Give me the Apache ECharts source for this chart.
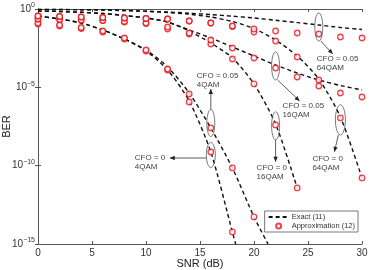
<!DOCTYPE html>
<html>
<head>
<meta charset="utf-8">
<script src="https://cdn.jsdelivr.net/npm/echarts@6/dist/echarts.min.js"></script>
<style>
  html, body { margin: 0; padding: 0; background: #fff; }
  #chart { width: 369px; height: 270px; }
</style>
</head>
<body>
<div id="chart"></div>
<script>
// exact curves, eq. (11): [SNR dB, BER]
const exact4qamCfo0 = [[0,0.357],[2,0.230],[4,0.128],[6,0.0457],[8,0.0122],[10,2.09e-3],[12,1.28e-4],[14,1.35e-6],[16,7.48e-10],[18,5.88e-15],[18.3,1e-15]];
const exact4qamCfo005 = [[0,0.357],[2,0.230],[4,0.128],[6,0.0457],[8,0.0122],[10,2.42e-3],[12,1.99e-4],[14,4.36e-6],[16,2.55e-8],[18,7.13e-11],[20,5.32e-14],[21.3,1e-15]];
const exact16qamCfo0 = [[0,0.745],[2,0.693],[4,0.616],[6,0.516],[8,0.385],[10,0.267],[12,0.148],[14,0.0394],[16,6.77e-3],[18,7.46e-4],[20,1.64e-5],[22,4.58e-8],[24,3.78e-12]];
const exact16qamCfo005 = [[0,0.745],[2,0.693],[4,0.616],[6,0.516],[8,0.385],[10,0.267],[12,0.148],[14,0.0457],[16,0.0141],[18,3.76e-3],[20,1.0e-3],[22,2.67e-4],[24,8.24e-5],[26,2.94e-5],[28,1.31e-5],[30,6.78e-6]];
const exact64qamCfo0 = [[0,0.95],[2,0.93],[4,0.90],[6,0.863],[8,0.790],[10,0.703],[12,0.598],[14,0.466],[16,0.309],[18,0.159],[20,0.0570],[22,0.0105],[24,1.0e-3],[26,3.41e-5],[28,1.28e-7],[30,1.64e-11]];
const exact64qamCfo005 = [[0,0.95],[2,0.93],[4,0.90],[6,0.863],[8,0.802],[10,0.724],[12,0.643],[14,0.540],[16,0.439],[18,0.347],[20,0.267],[22,0.190],[24,0.136],[26,0.0953],[28,0.0660],[30,0.0492]];

// approximation, eq. (12)
const approx4qamCfo0 = [[0,0.110],[2,0.0822],[4,0.0570],[6,0.0340],[8,0.0122],[10,2.09e-3],[12,1.28e-4],[14,1.16e-6],[16,7.48e-10],[18,5.88e-15]];
const approx4qamCfo005 = [[0,0.128],[2,0.0953],[4,0.0660],[6,0.0394],[8,0.0141],[10,2.42e-3],[12,1.48e-4],[14,3.76e-6],[16,2.55e-8],[18,7.13e-11],[20,5.32e-14]];
const approx16qamCfo0 = [[0,0.230],[2,0.214],[4,0.199],[6,0.185],[8,0.148],[10,0.119],[12,0.0529],[14,0.0254],[16,5.84e-3],[18,6.44e-4],[20,1.64e-5],[22,3.96e-8],[24,3.78e-12]];
const approx16qamCfo005 = [[0,0.230],[2,0.214],[4,0.199],[6,0.185],[8,0.159],[10,0.128],[12,0.0710],[14,0.0294],[16,0.0105],[18,3.24e-3],[20,7.46e-4],[22,1.72e-4],[24,4.57e-5],[26,1.22e-5],[28,4.36e-6],[30,2.42e-6]];
const approx64qamCfo0 = [[0,0.357],[2,0.332],[4,0.309],[6,0.287],[8,0.267],[10,0.248],[12,0.230],[14,0.171],[16,0.128],[18,0.0764],[20,0.0340],[22,9.08e-3],[24,8.65e-4],[26,2.94e-5],[28,1.11e-7],[30,1.64e-11]];
const approx64qamCfo005 = [[0,0.357],[2,0.332],[4,0.309],[6,0.287],[8,0.267],[10,0.248],[12,0.230],[14,0.171],[16,0.128],[18,0.0822],[20,0.0529],[22,0.0394],[24,0.0294],[26,0.0254],[28,0.0163],[30,0.0141]];

// callouts: ellipse centre [SNR, BER], then offsets in px for arrow and text
const callouts = [
  { text: 'CFO = 0.05\n64QAM', at: [26, 0.071], rx: 4, ry: 14, arrow: [[2, 14], [14, 27]], label: [-2, 27] },
  { text: 'CFO = 0.05\n16QAM', at: [22, 2.3e-4], rx: 4, ry: 14, arrow: [[2, 14], [24, 35]], label: [7, 35] },
  { text: 'CFO = 0.05\n4QAM', at: [16, 5.3e-8], rx: 4, ry: 13.5, arrow: [[0, -13.5], [0, -34]], label: [-14, -52] },
  { text: 'CFO = 0\n4QAM', at: [16, 4.8e-10], rx: 4.5, ry: 12.5, arrow: [[-4.5, 3], [-41, 3]], label: [-76, -2] },
  { text: 'CFO = 0\n16QAM', at: [22, 3.5e-8], rx: 4, ry: 14, arrow: [[0, 14], [0, 36]], label: [-19, 37] },
  { text: 'CFO = 0\n64QAM', at: [28, 8.4e-8], rx: 5, ry: 15, arrow: [[-2, 15], [-6, 32]], label: [-28, 34] }
];

const FONT = '"Liberation Sans", Arial, sans-serif';
const chart = echarts.init(document.getElementById('chart'), null, { renderer: 'canvas' });

const lineStyleExact = { color: '#111', width: 1.4, type: [4, 3] };
const approxStyle = { color: '#fff', borderColor: '#e8141c', borderWidth: 1.3 };

const exactSeries = [exact4qamCfo0, exact4qamCfo005, exact16qamCfo0, exact16qamCfo005, exact64qamCfo0, exact64qamCfo005].map(d => ({
  name: 'Exact (11)',
  type: 'line',
  data: d,
  symbol: 'none',
  smooth: 0.25,
  lineStyle: lineStyleExact,
  itemStyle: { color: '#111' },
  z: 2
}));
const approxSeries = [approx4qamCfo0, approx4qamCfo005, approx16qamCfo0, approx16qamCfo005, approx64qamCfo0, approx64qamCfo005].map(d => ({
  name: 'Approximation (12)',
  type: 'scatter',
  data: d,
  symbol: 'circle',
  symbolSize: 5.5,
  itemStyle: approxStyle,
  z: 3
}));

const supLabel = v => {
  const e = Math.round(Math.log10(v));
  return '{b|10}{s|' + (e < 0 ? '\u2212' + (-e) : e) + '}';
};

const option = {
  animation: false,
  textStyle: { fontFamily: FONT },
  grid: { left: 38, right: 7, top: 9, bottom: 26, outerBoundsMode: 'none', containLabel: false },
  legend: {
    orient: 'vertical',
    right: 11,
    bottom: 38,
    itemWidth: 20,
    itemHeight: 5,
    itemGap: 1,
    padding: [2, 3, 2, 3],
    borderColor: '#555',
    borderWidth: 0.8,
    backgroundColor: '#fff',
    textStyle: { fontSize: 7.5, color: '#333', fontFamily: FONT, padding: [0, 0, 0, -2] },
    data: [
      { name: 'Exact (11)', itemStyle: { opacity: 0 } },
      { name: 'Approximation (12)' }
    ]
  },
  xAxis: [
    {
      type: 'value', min: 0, max: 30, interval: 5,
      name: 'SNR (dB)', nameLocation: 'middle', nameGap: 14, nameMoveOverlap: false,
      nameTextStyle: { fontSize: 11, color: '#222', fontFamily: FONT },
      axisLine: { lineStyle: { color: '#555', width: 1 } },
      axisTick: { inside: true, length: 3, lineStyle: { color: '#555' } },
      axisLabel: { fontSize: 10, color: '#333', margin: 4, fontFamily: FONT },
      splitLine: { show: false }
    },
    {
      type: 'value', min: 0, max: 30, interval: 5, position: 'top',
      axisLine: { lineStyle: { color: '#555', width: 1 } },
      axisTick: { inside: true, length: 3, lineStyle: { color: '#555' } },
      axisLabel: { show: false },
      splitLine: { show: false }
    }
  ],
  yAxis: [
    {
      type: 'log', logBase: 10, min: 1e-15, max: 1, interval: 5,
      name: 'BER', nameLocation: 'middle', nameGap: 26, nameMoveOverlap: false,
      nameTextStyle: { fontSize: 11, color: '#222', fontFamily: FONT },
      axisLine: { show: true, lineStyle: { color: '#555', width: 1 } },
      axisTick: { inside: true, length: 3, lineStyle: { color: '#555' } },
      axisLabel: {
        margin: 3, formatter: supLabel,
        rich: {
          b: { fontSize: 10, color: '#333', fontFamily: FONT },
          s: { fontSize: 7, color: '#333', fontFamily: FONT, padding: [0, 0, 7, 0] }
        }
      },
      minorTick: { show: false },
      splitLine: { show: false }
    },
    {
      type: 'log', logBase: 10, min: 1e-15, max: 1, interval: 5, position: 'right',
      axisLine: { show: true, lineStyle: { color: '#555', width: 1 } },
      axisTick: { inside: true, length: 3, lineStyle: { color: '#555' } },
      axisLabel: { show: false },
      splitLine: { show: false }
    }
  ],
  series: exactSeries.concat(approxSeries)
};

chart.setOption(option);

// ellipses, arrows and texts placed from data coordinates
const graphics = [];
const stroke = '#555';
callouts.forEach(c => {
  const p = chart.convertToPixel({ xAxisIndex: 0, yAxisIndex: 0 }, c.at);
  const cx = p[0], cy = p[1];
  graphics.push({
    type: 'ellipse', shape: { cx: cx, cy: cy, rx: c.rx, ry: c.ry },
    style: { fill: 'none', stroke: stroke, lineWidth: 0.8 }, z: 10
  });
  const x1 = cx + c.arrow[0][0], y1 = cy + c.arrow[0][1];
  const x2 = cx + c.arrow[1][0], y2 = cy + c.arrow[1][1];
  graphics.push({
    type: 'line', shape: { x1: x1, y1: y1, x2: x2, y2: y2 },
    style: { stroke: '#333', lineWidth: 0.8 }, z: 10
  });
  const ang = Math.atan2(y2 - y1, x2 - x1);
  const hl = 5, hw = 2.2;
  const bx = x2 - hl * Math.cos(ang), by = y2 - hl * Math.sin(ang);
  graphics.push({
    type: 'polygon',
    shape: { points: [[x2, y2], [bx - hw * Math.sin(ang), by + hw * Math.cos(ang)], [bx + hw * Math.sin(ang), by - hw * Math.cos(ang)]] },
    style: { fill: '#222' }, z: 10
  });
  graphics.push({
    type: 'text', x: cx + c.label[0], y: cy + c.label[1],
    style: { text: c.text, font: '8px ' + FONT, fill: '#444', lineHeight: 9 }, z: 10
  });
});
chart.setOption({ graphic: graphics });
</script>
</body>
</html>
